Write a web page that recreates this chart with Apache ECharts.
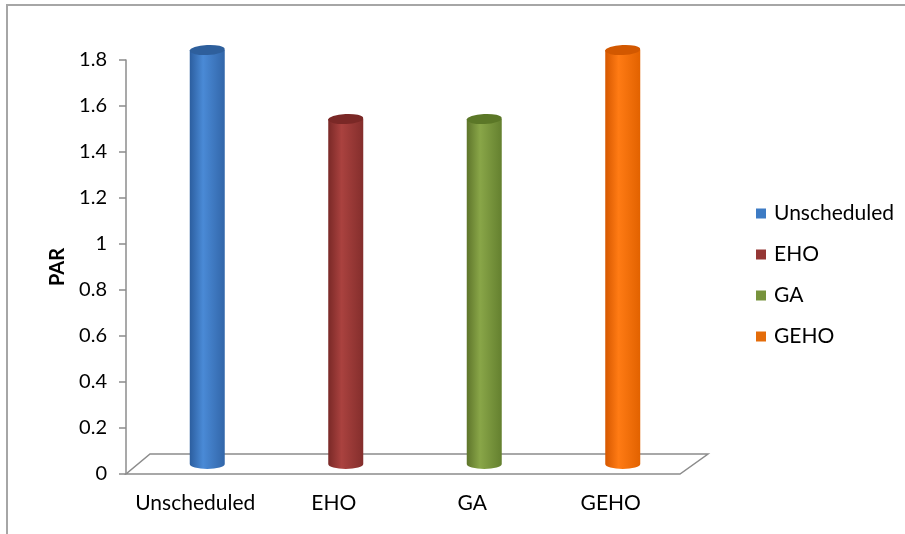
<!DOCTYPE html>
<html>
<head>
<meta charset="utf-8">
<script src="https://cdn.jsdelivr.net/npm/echarts@6/dist/echarts.min.js"></script>
<style>
  html, body { margin: 0; padding: 0; background: #fff; }
  #chart { width: 905px; height: 534px; }
</style>
</head>
<body>
<div id="chart"></div>
<script>
// Peak-to-average ratio per scheduling method
const categories = ['Unscheduled', 'EHO', 'GA', 'GEHO'];
const parValues = [1.8, 1.5, 1.5, 1.8];
const yTicks = { min: 0, max: 1.8, interval: 0.2 };
const axisName = 'PAR';

// Cylinder palette: [left shade, highlight, right shade, top cap, legend swatch]
const palettes = [
  ['#2c5e9f', '#4a8ad6', '#3266a9', '#2e5f9c', '#3d7bc4'],
  ['#7a2927', '#aa423f', '#842e2c', '#7a2826', '#953735'],
  ['#5e752b', '#89a648', '#64802f', '#5b7727', '#77933c'],
  ['#d65800', '#ff7b14', '#e26200', '#d25800', '#e46c0a']
];

const FONT = 'Lato';
// Depth of the floor plane and of the cylinders' centre line
const FLOOR_BACK_L = [24, -20];
const FLOOR_BACK_R = [28, -20];
const CYL_SHIFT = [12, -10];
const CYL_W = 35;
const CAP_RY = 5;

function cylinderRenderer(pal) {
  return function (params, api) {
    const cat = api.value(0);
    const val = api.value(1);
    const top = api.coord([cat, val]);
    const base = api.coord([cat, 0]);
    const cx = top[0] + CYL_SHIFT[0];
    const ty = top[1] + CYL_SHIFT[1];
    const by = base[1] + CYL_SHIFT[1];
    const rx = CYL_W / 2;
    const x1 = cx - rx, x2 = cx + rx;
    const body = new echarts.graphic.LinearGradient(0, 0, 1, 0, [
      { offset: 0, color: pal[0] },
      { offset: 0.38, color: pal[1] },
      { offset: 1, color: pal[2] }
    ]);
    return {
      type: 'group',
      children: [
        {
          type: 'path',
          shape: {
            pathData: 'M' + x1 + ' ' + ty + ' L' + x1 + ' ' + by +
              ' A' + rx + ' ' + CAP_RY + ' 0 0 0 ' + x2 + ' ' + by +
              ' L' + x2 + ' ' + ty + ' Z'
          },
          style: { fill: body, stroke: null }
        },
        {
          type: 'circle',
          x: cx, y: ty,
          scaleY: CAP_RY / rx,
          rotation: 0.05,
          shape: { cx: 0, cy: 0, r: rx },
          style: { fill: pal[3], stroke: null }
        }
      ]
    };
  };
}

function floorRenderer(params, api) {
  const cs = params.coordSys;
  const fy = cs.y + cs.height;
  const pts = [
    [cs.x, fy],
    [cs.x + cs.width, fy],
    [cs.x + cs.width + FLOOR_BACK_R[0], fy + FLOOR_BACK_R[1]],
    [cs.x + FLOOR_BACK_L[0], fy + FLOOR_BACK_L[1]]
  ];
  return {
    type: 'polygon',
    shape: { points: pts },
    style: { fill: '#ffffff', stroke: '#8c8c8c', lineWidth: 1.5 }
  };
}

const series = [{
  type: 'custom',
  name: '_floor',
  silent: true,
  z: 1,
  data: [[0, 0]],
  renderItem: floorRenderer
}];
categories.forEach(function (c, i) {
  series.push({
    type: 'custom',
    name: c,
    z: 5,
    color: palettes[i][4],
    data: [[i, parValues[i]]],
    encode: { x: 0, y: 1 },
    renderItem: cylinderRenderer(palettes[i])
  });
});

const chart = echarts.init(document.getElementById('chart'), null, { renderer: 'canvas' });
chart.setOption({
  animation: false,
  backgroundColor: '#ffffff',
  textStyle: { fontFamily: FONT },
  graphic: [{
    type: 'rect',
    shape: { x: 7, y: 5, width: 1000, height: 600 },
    style: { fill: null, stroke: '#a6a6a6', lineWidth: 2 },
    silent: true,
    z: 0
  }],
  grid: { left: 126, right: 225, top: 60, bottom: 60, containLabel: false },
  legend: {
    data: categories,
    orient: 'vertical',
    left: 751,
    top: 198,
    itemWidth: 10,
    itemHeight: 10,
    itemGap: 20,
    icon: 'rect',
    textStyle: { fontFamily: FONT, fontSize: 21, color: '#000', padding: [0, 0, 0, 3], lineHeight: 21 }
  },
  xAxis: {
    type: 'category',
    data: categories,
    axisLine: { show: false },
    axisTick: { show: false },
    splitLine: { show: false },
    axisLabel: { interval: 0, hideOverlap: false, fontFamily: FONT, fontSize: 21, color: '#000', margin: 19 }
  },
  yAxis: {
    type: 'value',
    min: yTicks.min,
    max: yTicks.max,
    interval: yTicks.interval,
    name: axisName,
    nameLocation: 'middle',
    nameGap: 58,
    nameTextStyle: { fontFamily: FONT, fontSize: 20, fontWeight: 'bold', color: '#000' },
    axisLine: { show: true, lineStyle: { color: '#8c8c8c', width: 1.5 } },
    axisTick: { show: true, length: 7, lineStyle: { color: '#8c8c8c', width: 1.5 } },
    splitLine: { show: false },
    axisLabel: {
      fontFamily: FONT, fontSize: 20, color: '#000', margin: 19,
      formatter: function (v) { return String(Math.round(v * 10) / 10); }
    }
  },
  series: series
});
</script>
</body>
</html>
